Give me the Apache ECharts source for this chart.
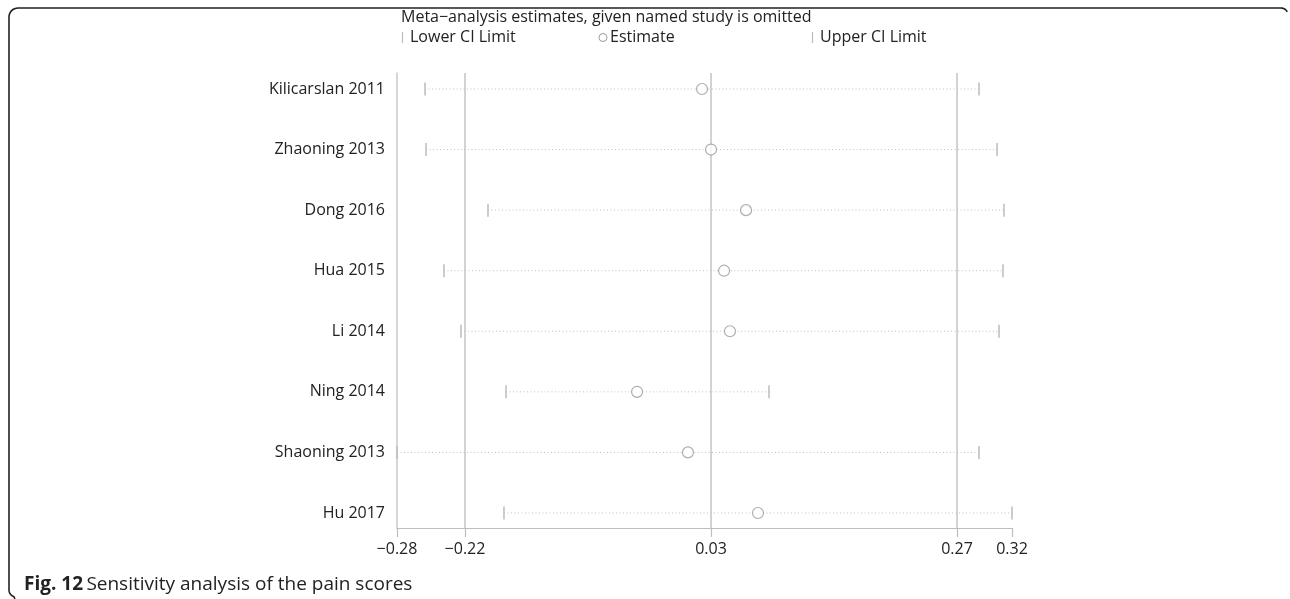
<!DOCTYPE html>
<html>
<head>
<meta charset="utf-8">
<script src="https://cdn.jsdelivr.net/npm/echarts@6/dist/echarts.min.js"></script>
<style>
html,body{margin:0;padding:0;background:#fff;}
#chart{width:1290px;height:599px;}
</style>
</head>
<body>
<div id="chart"></div>
<script>
// ---- data ----
const studies = ["Kilicarslan 2011","Zhaoning 2013","Dong 2016","Hua 2015","Li 2014","Ning 2014","Shaoning 2013","Hu 2017"];
const lowerCI  = [-0.2558,-0.2548,-0.1936,-0.2371,-0.2203,-0.1758,-0.2835,-0.1778];
const estimate = [ 0.0179, 0.0268, 0.0614, 0.0397, 0.0455,-0.0463, 0.0040, 0.0732];
const upperCI  = [ 0.2916, 0.3094, 0.3163, 0.3153, 0.3114, 0.0841, 0.2916, 0.3242];
const overall  = [-0.2163, 0.0268, 0.2699];   // combined lower, estimate, upper
const xRange   = [-0.2835, 0.3242];
const xTicks   = [-0.2835, -0.2163, 0.0268, 0.2699, 0.3242];
const titleText = "Meta\u2212analysis estimates, given named study is omitted";
const legendNames = ["Lower CI Limit","Estimate","Upper CI Limit"];

const FONT = '"Open Sans", sans-serif';
const fmt = v => v.toFixed(2).replace('-', '\u2212');

const ciData = studies.map((s, i) => [lowerCI[i], i + 1, upperCI[i]]);
const estData = studies.map((s, i) => [estimate[i], i + 1]);

function corner(cx, cy, r, a0, a1, n) {
  const pts = [];
  for (let k = 0; k <= n; k++) {
    const a = a0 + (a1 - a0) * k / n;
    pts.push([cx + r * Math.cos(a), cy + r * Math.sin(a)]);
  }
  return pts;
}
const framePts = [[15, 599]]
  .concat(corner(16, 590, 7, Math.PI * 0.6, Math.PI, 6))
  .concat(corner(18, 17, 9, Math.PI, Math.PI * 1.5, 8))
  .concat(corner(1281, 15, 7, Math.PI * 1.5, Math.PI * 1.85, 6));

const chart = echarts.init(document.getElementById('chart'), null, {renderer: 'canvas'});
chart.setOption({
  animation: false,
  backgroundColor: '#fff',
  grid: {left: 397, right: 278, top: 73, bottom: 71, containLabel: false},
  xAxis: {
    type: 'value', min: xRange[0], max: xRange[1],
    axisLine: {show: true, onZero: false, lineStyle: {color: '#bdbdbd', width: 1.2}},
    axisTick: {show: true, length: 9, customValues: xTicks, lineStyle: {color: '#bdbdbd', width: 1.2}},
    axisLabel: {customValues: xTicks, formatter: fmt, color: '#222', fontFamily: FONT, fontSize: 16, margin: 13, showMinLabel: true, showMaxLabel: true},
    splitLine: {show: false}
  },
  yAxis: {
    type: 'value', inverse: true, min: 0.736, max: 8.248,
    axisLine: {show: true, onZero: false, lineStyle: {color: '#c8c8c8', width: 1.5}},
    axisTick: {show: false},
    axisLabel: {customValues: studies.map((s, i) => i + 1), formatter: v => studies[Math.round(v) - 1] || '',
      color: '#222', fontFamily: FONT, fontSize: 16, margin: 12},
    splitLine: {show: false}
  },
  series: [
    {
      type: 'custom', name: 'Overall', silent: true,
      data: overall.map(v => [v]),
      encode: {x: 0},
      renderItem: function (params, api) {
        const x = api.coord([api.value(0), 1])[0];
        const cs = params.coordSys;
        return {type: 'line', shape: {x1: x, y1: cs.y, x2: x, y2: cs.y + cs.height},
          style: {stroke: '#c4c4c4', lineWidth: 1.5}};
      },
      z: 1
    },
    {
      type: 'custom', name: 'CI', silent: true,
      data: ciData,
      encode: {x: [0, 2], y: 1},
      renderItem: function (params, api) {
        const y = api.value(1);
        const p1 = api.coord([api.value(0), y]);
        const p2 = api.coord([api.value(2), y]);
        const capH = 6.5;
        return {
          type: 'group',
          children: [
            {type: 'line', shape: {x1: p1[0], y1: p1[1], x2: p2[0], y2: p2[1]},
              style: {stroke: '#c0c0c0', lineWidth: 1, lineDash: [1, 2.5]}},
            {type: 'line', shape: {x1: p1[0], y1: p1[1] - capH, x2: p1[0], y2: p1[1] + capH},
              style: {stroke: '#bcbcbc', lineWidth: 1.5}},
            {type: 'line', shape: {x1: p2[0], y1: p2[1] - capH, x2: p2[0], y2: p2[1] + capH},
              style: {stroke: '#bcbcbc', lineWidth: 1.5}}
          ]
        };
      },
      z: 2
    },
    {
      type: 'scatter', name: 'Estimate', data: estData,
      symbol: 'circle', symbolSize: 11,
      itemStyle: {color: '#fff', borderColor: '#9a9a9a', borderWidth: 1.2},
      z: 3
    }
  ],
  graphic: [
    {type: 'text', x: 401, y: 17, style: {text: titleText, fill: '#222', font: '16px ' + FONT, verticalAlign: 'middle'}},
    // legend
    {type: 'line', shape: {x1: 402.5, y1: 32, x2: 402.5, y2: 43}, style: {stroke: '#bcbcbc', lineWidth: 1.2}},
    {type: 'text', x: 410, y: 37, style: {text: legendNames[0], fill: '#222', font: '16px ' + FONT, verticalAlign: 'middle'}},
    {type: 'circle', shape: {cx: 603, cy: 37.5, r: 4}, style: {fill: '#fff', stroke: '#9a9a9a', lineWidth: 1}},
    {type: 'text', x: 610, y: 37, style: {text: legendNames[1], fill: '#222', font: '16px ' + FONT, verticalAlign: 'middle'}},
    {type: 'line', shape: {x1: 812.5, y1: 32, x2: 812.5, y2: 43}, style: {stroke: '#bcbcbc', lineWidth: 1.2}},
    {type: 'text', x: 820, y: 37, style: {text: legendNames[2], fill: '#222', font: '16px ' + FONT, verticalAlign: 'middle'}},
    // caption
    {type: 'text', x: 24, y: 585, style: {
      text: '{b|Fig. 12} {r|Sensitivity analysis of the pain scores}',
      verticalAlign: 'middle',
      rich: {b: {fontWeight: 'bold', fontSize: 19, fontFamily: FONT, fill: '#222'},
             r: {fontSize: 19, fontFamily: FONT, fill: '#222'}}
    }},
    // frame
    {type: 'polyline', shape: {points: framePts}, style: {fill: null, stroke: '#222', lineWidth: 1.6}}
  ]
});
</script>
</body>
</html>
